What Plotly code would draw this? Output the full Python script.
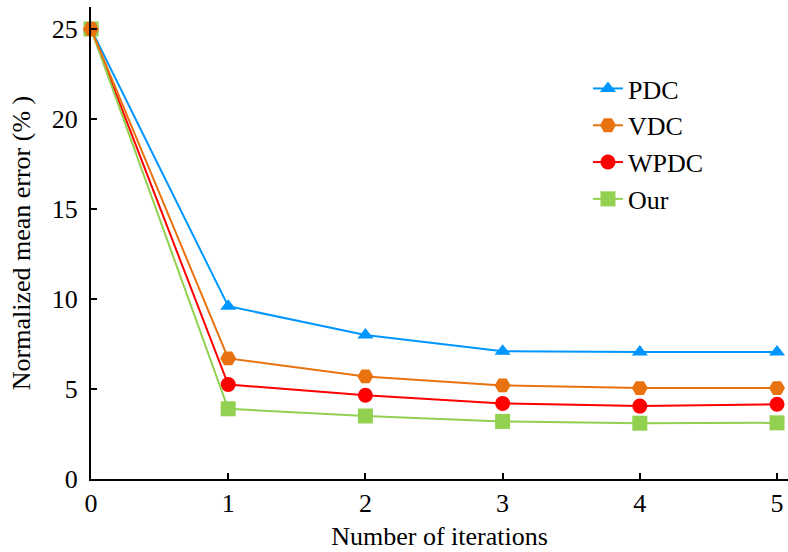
import plotly.graph_objects as go

iterations = [0, 1, 2, 3, 4, 5]
pdc = [25, 9.6, 8.0, 7.1, 7.05, 7.05]
vdc = [25, 6.7, 5.7, 5.2, 5.05, 5.05]
wpdc = [25, 5.25, 4.65, 4.2, 4.05, 4.15]
our = [25, 3.9, 3.5, 3.2, 3.1, 3.12]

series = [
    ("PDC", pdc, "#0096FF", "triangle-up", 14, 1),
    ("WPDC", wpdc, "#FF0000", "circle", 15, 3),
    ("Our", our, "#92D050", "square", 15, 4),
    ("VDC", vdc, "#E8720F", "hexagon2", 16, 2),
]

FONT = "Liberation Serif, Times New Roman, serif"

fig = go.Figure()
for name, vals, color, sym, size, rank in series:
    fig.add_trace(go.Scatter(
        x=iterations, y=vals, name=name, mode="lines+markers",
        line=dict(color=color, width=2),
        marker=dict(symbol=sym, size=size, color=color, line=dict(width=0)),
        cliponaxis=False, legendrank=rank,
    ))

fig.update_layout(
    width=788, height=552,
    margin=dict(l=91, r=0, t=7, b=73),
    paper_bgcolor="white", plot_bgcolor="white",
    font=dict(family=FONT, size=26, color="black"),
    showlegend=True,
    legend=dict(x=0.713, y=0.877, xanchor="left", yanchor="top",
                bgcolor="rgba(0,0,0,0)", font=dict(size=26, family=FONT)),
    xaxis=dict(range=[0, 5.08], tickvals=iterations, showgrid=False, zeroline=False,
               showline=True, linecolor="black", linewidth=2,
               ticks="inside", ticklen=6, tickwidth=2, tickcolor="black",
               title=dict(text="Number of iterations", standoff=10, font=dict(size=26)),
               tickfont=dict(size=26)),
    yaxis=dict(range=[0, 26.22], tickvals=[0, 5, 10, 15, 20, 25], showgrid=False, zeroline=False,
               showline=True, linecolor="black", linewidth=2,
               ticks="inside", ticklen=6, tickwidth=2, tickcolor="black",
               ticklabelstandoff=6,
               title=dict(text="Normalized mean error (% )", standoff=14, font=dict(size=26)),
               tickfont=dict(size=26)),
)

fig.write_html("out.html")
